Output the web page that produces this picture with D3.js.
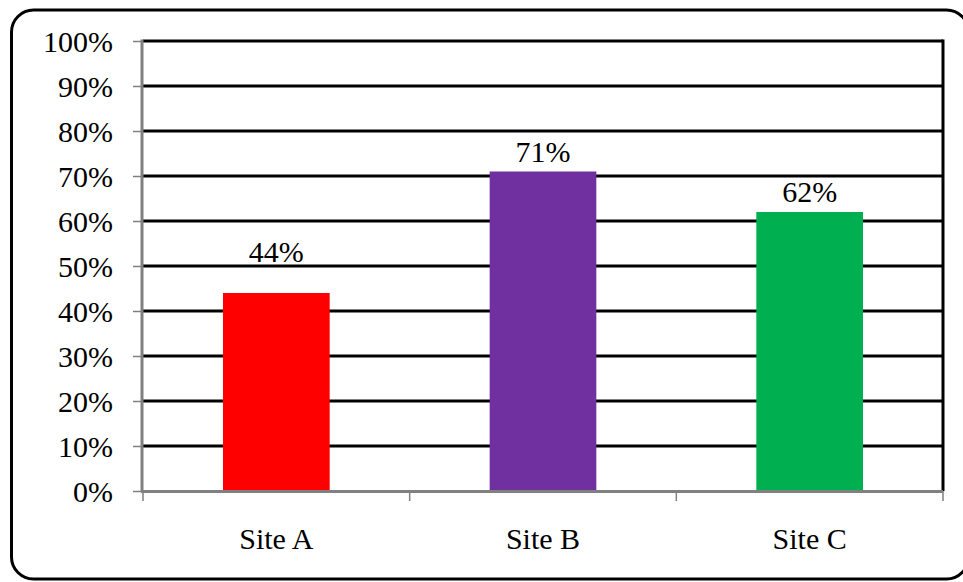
<!DOCTYPE html>
<html>
<head>
<meta charset="utf-8">
<script src="https://cdn.jsdelivr.net/npm/d3@7"></script>
<style>
  html, body { margin: 0; padding: 0; background: #fff; }
  svg { display: block; }
  text { font-family: "Liberation Serif", "Times New Roman", serif; fill: #000; }
</style>
</head>
<body>
<svg id="chart" width="963" height="582"></svg>
<script>
// Share of respondents per site
const categories = ["Site A", "Site B", "Site C"];
const values = [0.44, 0.71, 0.62];
const barColors = ["#FF0000", "#7030A0", "#00B050"];
const yTicks = [0, 0.1, 0.2, 0.3, 0.4, 0.5, 0.6, 0.7, 0.8, 0.9, 1.0];

const serif = "'Liberation Serif', 'Times New Roman', serif";
const svg = d3.select("#chart");
const plot = { left: 143, right: 943, top: 41, bottom: 491 };

// Rounded frame around the chart
svg.append("rect")
  .attr("x", 11.5).attr("y", 10)
  .attr("width", 957).attr("height", 569)
  .attr("rx", 22).attr("ry", 22)
  .attr("fill", "none")
  .attr("stroke", "#000")
  .attr("stroke-width", 3);

const x = d3.scaleBand()
  .domain(categories)
  .range([plot.left, plot.right])
  .paddingInner(0.6)
  .paddingOuter(0.3);

const y = d3.scaleLinear()
  .domain([0, 1])
  .range([plot.bottom, plot.top]);

// Horizontal gridlines
svg.append("g")
  .selectAll("line")
  .data(yTicks.filter(d => d > 0))
  .join("line")
  .attr("x1", plot.left).attr("x2", plot.right)
  .attr("y1", d => y(d)).attr("y2", d => y(d))
  .attr("stroke", "#000")
  .attr("stroke-width", 3);

// Right edge of the plot area
svg.append("line")
  .attr("x1", plot.right).attr("x2", plot.right)
  .attr("y1", plot.top - 1.5).attr("y2", plot.bottom)
  .attr("stroke", "#000")
  .attr("stroke-width", 3);

// Bars
svg.append("g")
  .selectAll("rect")
  .data(values)
  .join("rect")
  .attr("x", (d, i) => x(categories[i]))
  .attr("y", d => y(d))
  .attr("width", x.bandwidth())
  .attr("height", d => y(0) - y(d))
  .attr("fill", (d, i) => barColors[i]);

// Value labels above bars (the first one sits a little higher)
const labelLift = [31, 10, 10];
svg.append("g")
  .selectAll("text")
  .data(values)
  .join("text")
  .attr("x", (d, i) => x(categories[i]) + x.bandwidth() / 2)
  .attr("y", (d, i) => y(d) - labelLift[i])
  .attr("text-anchor", "middle")
  .style("font-family", serif)
  .style("font-size", "30px")
  .text(d => d3.format(".0%")(d));

// Y axis
const yAxis = d3.axisLeft(y)
  .tickValues(yTicks)
  .tickFormat(d3.format(".0%"))
  .tickSize(9)
  .tickPadding(20);

const gy = svg.append("g")
  .attr("transform", `translate(${plot.left - 1},0)`)
  .call(yAxis);
gy.select(".domain")
  .attr("stroke", "#808080")
  .attr("stroke-width", 3)
  .attr("d", `M0,${plot.top - 1.5}V${plot.bottom + 1}`);
gy.selectAll(".tick line").attr("stroke", "#808080").attr("stroke-width", 1.5);
gy.selectAll(".tick text")
  .style("font-family", serif)
  .style("font-size", "30px")
  .attr("fill", "#000")
  .attr("dy", "0.34em");

// X axis with ticks at category boundaries
const boundaries = d3.range(categories.length + 1)
  .map(i => plot.left + i * (plot.right - plot.left) / categories.length);

svg.append("line")
  .attr("x1", plot.left - 2).attr("x2", plot.right)
  .attr("y1", plot.bottom + 0.5).attr("y2", plot.bottom + 0.5)
  .attr("stroke", "#808080")
  .attr("stroke-width", 3);

svg.append("g")
  .selectAll("line")
  .data(boundaries)
  .join("line")
  .attr("x1", d => d).attr("x2", d => d)
  .attr("y1", plot.bottom).attr("y2", plot.bottom + 10)
  .attr("stroke", "#808080")
  .attr("stroke-width", 1.5);

svg.append("g")
  .selectAll("text")
  .data(categories)
  .join("text")
  .attr("x", d => x(d) + x.bandwidth() / 2)
  .attr("y", plot.bottom + 58)
  .attr("text-anchor", "middle")
  .style("font-family", serif)
  .style("font-size", "30px")
  .text(d => d);
</script>
</body>
</html>
